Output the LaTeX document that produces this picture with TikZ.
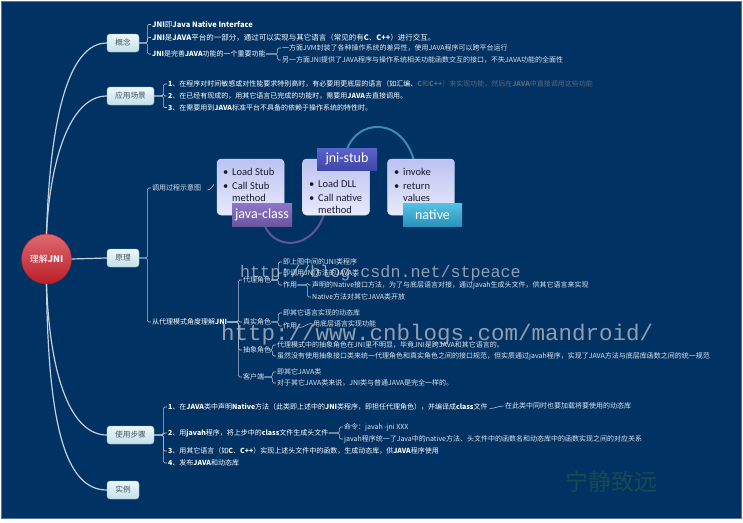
\documentclass[tikz,border=0pt]{standalone}
\usepackage{fontspec}
\setmainfont{Noto Sans CJK SC}
\newfontfamily\wmfont{Liberation Mono}
\newfontfamily\boxfont{Carlito}
\definecolor{bgc}{RGB}{0,50,99}
\definecolor{framec}{RGB}{90,118,150}
\definecolor{linec}{RGB}{185,196,210}
\definecolor{curvec}{RGB}{200,208,218}
\definecolor{txb}{RGB}{225,230,238}
\definecolor{dimc}{RGB}{92,104,122}
\definecolor{topicb}{RGB}{150,190,205}
\definecolor{topict}{RGB}{236,247,250}
\definecolor{topicbt}{RGB}{196,224,233}
\definecolor{topictx}{RGB}{70,84,96}
\definecolor{rootA}{RGB}{222,105,112}
\definecolor{rootB}{RGB}{196,38,46}
\definecolor{rootC}{RGB}{186,30,40}
\definecolor{cardt}{RGB}{188,194,240}
\definecolor{cardbt}{RGB}{232,234,252}
\definecolor{cardb}{RGB}{214,218,248}
\definecolor{cardtx}{RGB}{25,25,45}
\definecolor{jcA}{RGB}{142,118,198}
\definecolor{jcB}{RGB}{106,84,160}
\definecolor{jsA}{RGB}{92,100,204}
\definecolor{jsB}{RGB}{62,70,168}
\definecolor{ntA}{RGB}{84,194,228}
\definecolor{ntB}{RGB}{40,146,186}
\definecolor{arcp}{RGB}{100,84,156}
\definecolor{arct}{RGB}{56,140,182}
\definecolor{wmc}{RGB}{146,158,176}
\definecolor{sigc}{RGB}{26,74,80}
\newcommand\lk[2]{\draw[br] ([xshift=-1.2pt]#2.west) -- ++(-3.5,0) |- (#1.east);}
\newcommand\hk[2]{\draw[br,rounded corners=0pt] ([xshift=2pt,yshift=-1.5pt]#1.east) .. controls +(5,0) and +(-5,0) .. ([xshift=-1.5pt]#2.west);}
\begin{document}
\begin{tikzpicture}[x=1pt,y=-1pt,
  t1/.style={anchor=west,inner sep=0pt,text=white,font=\fontsize{7}{8}\selectfont},
  t0/.style={t1,font=\fontsize{7.5}{8}\selectfont},
  t2/.style={t1,text=txb},
  br/.style={draw=linec,line width=0.6pt,rounded corners=1.5pt},
  cv/.style={draw=curvec,line width=1.2pt},
  topic/.style={rounded corners=3pt,draw=topicb,top color=topict,bottom color=topicbt,minimum height=18pt,inner sep=0pt,text=topictx,font=\fontsize{7.7}{8}\selectfont},
  card/.style={rounded corners=4pt,draw=cardb,line width=0.5pt,top color=cardt,bottom color=cardbt,minimum width=67pt,minimum height=56pt,inner sep=0pt},
  ctext/.style={anchor=west,inner sep=0pt,text=cardtx,font=\boxfont\fontsize{10.5}{11}\selectfont},
  tagbox/.style={inner sep=0pt,minimum height=23pt,minimum width=60pt,text=white,font=\boxfont\fontsize{14}{14}\selectfont},
  wm/.style={inner sep=0pt,anchor=base west,text=wmc,font=\wmfont},
]
\useasboundingbox (0,0) rectangle (743,522);
\fill[white] (0,0) rectangle (743,522);
\filldraw[fill=bgc,draw=framec,line width=1pt] (1,1) rectangle (741.5,518.5);

% watermarks
\node[wm,font=\wmfont\fontsize{16.7}{17}\selectfont] (wm1) at (240,277) {http://blog.csdn.net/stpeace};
\node[wm,font=\wmfont\fontsize{22.5}{23}\selectfont] (wm2) at (221,340) {http://www.cnblogs.com/mandroid/};
\node[inner sep=0pt,text=sigc,font=\fontsize{23}{23}\selectfont] (sig) at (611,482) {宁静致远};

% root and main topics
\node[circle,minimum size=50pt,inner sep=0pt,draw=rootC,top color=rootA,middle color=rootB,bottom color=rootC,text=white,font=\fontsize{9}{9}\selectfont] (root) at (46.5,259) {理解\textbf{JNI}};
\node[topic,minimum width=32pt] (gn) at (123,43) {概念};
\node[topic,minimum width=47pt] (yy) at (130.5,96) {应用场景};
\node[topic,minimum width=32pt] (yl) at (123,258) {原理};
\node[topic,minimum width=47pt] (sy) at (130.5,435) {使用步骤};
\node[topic,minimum width=32pt] (sl) at (123,490) {实例};

\draw[cv] (root.north) .. controls (50,120) and (68,43) .. (gn.west);
\draw[cv] (root.north) .. controls (50,160) and (70,96) .. (yy.west);
\draw[cv] (root.east) -- (yl.west);
\draw[cv] (root.south) .. controls (50,380) and (72,435) .. (sy.west);
\draw[cv] (root.south) .. controls (48,420) and (64,490) .. (sl.west);

% 概念
\node[t0] (g1) at (152,24.5) {\textbf{JNI}即\textbf{Java Native Interface}};
\node[t0] (g2) at (152,37.5) {\textbf{JNI}是\textbf{JAVA}平台的一部分，通过可以实现与其它语言（常见的有\textbf{C}、\textbf{C++}）进行交互。};
\node[t1] (g3) at (152,54) {\textbf{JNI}是完善\textbf{JAVA}功能的一个重要功能};
\node[t2] (g31) at (282,48) {一方面JVM封装了各种操作系统的差异性，使用JAVA程序可以跨平台运行};
\node[t2] (g32) at (282,60) {另一方面JNI提供了JAVA程序与操作系统相关功能函数交互的接口，不失JAVA功能的全面性};
\lk{gn}{g1}\lk{gn}{g2}\lk{gn}{g3}
\lk{g3}{g31}\lk{g3}{g32}

% 应用场景
\node[t1] (y1) at (168,84) {\textbf{1}、在程序对时间敏感或对性能要求特别高时，有必要用更底层的语言（如汇编、\textcolor{dimc}{\textbf{C}和\textbf{C++}）来实现功能，然后在\textbf{JAVA}中直接调用这些功能}};
\node[t1] (y2) at (168,96) {\textbf{2}、在已经有现成的，用其它语言已完成的功能时，需要用\textbf{JAVA}去直接调用。};
\node[t1] (y3) at (168,107.5) {\textbf{3}、在需要用到\textbf{JAVA}标准平台不具备的依赖于操作系统的特性时。};
\lk{yy}{y1}\lk{yy}{y2}\lk{yy}{y3}

% 原理
\node[t2] (ys) at (152,188) {调用过程示意图};
\node[t1] (yd) at (152,322) {从代理模式角度理解\textbf{JNI}};
\lk{yl}{ys}\lk{yl}{yd}
\coordinate (imgc) at (214,184.5);
\draw[br,rounded corners=0pt] ([xshift=6pt,yshift=-2pt]ys.east) .. controls +(3,0) and +(-2,2) .. (imgc);

% call diagram
\draw[arcp,line width=2pt] (263,220) .. controls (270,252) and (315,252) .. (325,210);
\draw[arct,line width=2pt] (345,155) .. controls (355,116) and (405,116) .. (415,165);
\node[card] (c1) at (250.5,187) {};
\node[card] (c2) at (336,187) {};
\node[card] (c3) at (421,187) {};
\node[ctext] (c1a) at (223,172) {\makebox[9pt][l]{•}Load Stub};
\node[ctext] (c1b) at (223,186) {\makebox[9pt][l]{•}Call Stub};
\node[ctext] (c1c) at (232,197.5) {method};
\node[ctext] (c2a) at (309,184) {\makebox[9pt][l]{•}Load DLL};
\node[ctext] (c2b) at (309,198) {\makebox[9pt][l]{•}Call native};
\node[ctext] (c2c) at (318,209.5) {method};
\node[ctext] (c3a) at (394,172) {\makebox[9pt][l]{•}invoke};
\node[ctext] (c3b) at (394,186) {\makebox[9pt][l]{•}return};
\node[ctext] (c3c) at (403,197.5) {values};
\node[tagbox,top color=jcA,bottom color=jcB] (tjc) at (262,215) {java-class};
\node[tagbox,top color=jsA,bottom color=jsB,minimum height=22pt] (tjs) at (347,159) {jni-stub};
\node[tagbox,top color=ntA,bottom color=ntB,minimum width=59pt] (tnt) at (432.5,215) {native};

% proxy pattern
\node[t2] (p1) at (243,280) {代理角色};
\node[t2] (p2) at (243,322) {真实角色};
\node[t2] (p3) at (243,350) {抽象角色};
\node[t2] (p4) at (243,377) {客户端};
\lk{yd}{p1}\lk{yd}{p2}\lk{yd}{p3}\lk{yd}{p4}
\node[t2] (p11) at (283,262) {即上图中间的JNI类程序};
\node[t2] (p12) at (283,273) {即调用JNI方法的JAVA类};
\node[t2] (p13) at (283,285) {作用};
\lk{p1}{p11}\lk{p1}{p12}\lk{p1}{p13}
\node[t2] (p131) at (312,285) {声明的Native接口方法，为了与底层语言对接，通过javah生成头文件，供其它语言来实现};
\node[t2] (p132) at (312,297) {Native方法对其它JAVA类开放};
\lk{p13}{p131}\lk{p13}{p132}
\node[t2] (p21) at (283,313) {即其它语言实现的动态库};
\node[t2] (p22) at (283,326) {作用};
\lk{p2}{p21}\lk{p2}{p22}
\node[t2] (p221) at (313,323.5) {用底层语言实现功能};
\hk{p22}{p221}
\node[t2] (p31) at (277,345) {代理模式中的抽象角色在JNI里不明显，毕竟JNI是跨JAVA和其它语言的。};
\node[t2] (p32) at (277,356) {虽然没有使用抽象接口类来统一代理角色和真实角色之间的接口规范，但实质通过javah程序，实现了JAVA方法与底层库函数之间的统一规范};
\lk{p3}{p31}\lk{p3}{p32}
\node[t2] (p41) at (277,372) {即其它JAVA类};
\node[t2] (p42) at (277,383) {对于其它JAVA类来说，JNI类与普通JAVA是完全一样的。};
\lk{p4}{p41}\lk{p4}{p42}

% 使用步骤
\node[t1] (s1) at (168,407) {\textbf{1}、在\textbf{JAVA}类中声明\textbf{Native}方法（此类即上述中的\textbf{JNI}类程序，即担任代理角色），并编译成\textbf{class}文件};
\node[t1] (s2) at (168,433) {\textbf{2}、用\textbf{javah}程序，将上步中的\textbf{class}文件生成头文件};
\node[t1] (s3) at (168,451) {\textbf{3}、用其它语言（如\textbf{C}、\textbf{C++}）实现上述头文件中的函数，生成动态库，供\textbf{JAVA}程序使用};
\node[t1] (s4) at (168,463) {\textbf{4}、发布\textbf{JAVA}和动态库};
\lk{sy}{s1}\lk{sy}{s2}\lk{sy}{s3}\lk{sy}{s4}
\node[t2] (s11) at (505,406) {在此类中同时也要加载将要使用的动态库};
\hk{s1}{s11}
\node[t2] (s21) at (344,427) {命令：javah -jni XXX};
\node[t2] (s22) at (344,439) {javah程序统一了Java中的native方法、头文件中的函数名和动态库中的函数实现之间的对应关系};
\lk{s2}{s21}\lk{s2}{s22}
\end{tikzpicture}
\end{document}
